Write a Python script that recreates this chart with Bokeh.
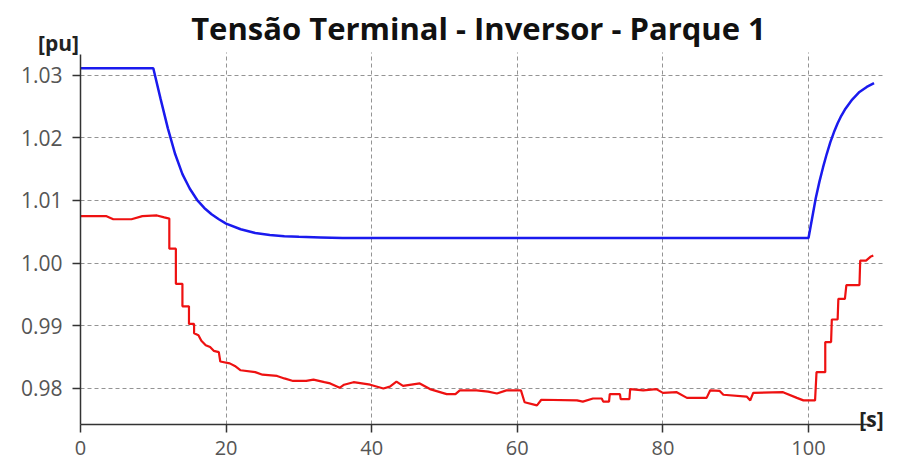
from bokeh.plotting import figure
from bokeh.models import Range1d, FixedTicker, Label, ColumnDataSource, LinearAxis, Grid
from bokeh.embed import file_html
from bokeh.resources import INLINE

# --- data -------------------------------------------------------------
# blue: terminal voltage reference (pu) vs time (s)
blue_t = [0, 10, 11, 12, 13, 14, 15, 16, 17, 18, 19, 20, 22, 24, 26, 28, 30, 33, 36,
          100, 100.5, 101, 101.5, 102, 102.5, 103, 103.5, 104, 104.5, 105, 106, 107, 108, 109]
blue_v = [1.0311, 1.0311, 1.0262, 1.0215, 1.0174, 1.0142, 1.0119, 1.0101, 1.0088, 1.0078,
          1.0070, 1.0063, 1.0054, 1.0048, 1.0045, 1.0043, 1.0042, 1.0041, 1.0040,
          1.0040, 1.0072, 1.0104, 1.0130, 1.0153, 1.0174, 1.0193, 1.0209, 1.0223, 1.0235,
          1.0245, 1.0261, 1.0273, 1.0281, 1.0287]

# red: measured inverter terminal voltage (pu) vs time (s)
red_t = [0, 3.5, 4.5, 7, 8.5, 10.5, 11.5, 12.2,
         12.2, 13.1, 13.1, 14.0, 14.0, 14.9, 14.9, 15.6, 15.6, 16.2, 16.6, 17.2, 17.8, 18.3,
         19.0, 19.2, 20.5, 21.2, 22.0, 24.0, 25, 27.0, 28, 29.2, 31, 32.0, 33.5, 34.3, 35.6,
         36.2, 37.5, 39.8, 41.6, 42.5, 43.4, 44.3, 46.6, 48, 50.3, 51.5, 52.1, 54.4, 56, 57.2,
         58.5, 60.5, 61, 62.7, 63.3, 68.2, 69, 70.4, 71.6, 71.8, 72.6, 72.7, 74.1, 74.2, 75.4,
         75.5, 77.3, 79.1, 80, 81.9, 83.3, 86.0, 86.5, 87.8, 88.3, 91.5, 92.0, 92.4, 96.5,
         98.4, 99.3, 100.9, 101.1, 102.3, 102.3, 103.1, 103.2, 104.0, 104.1, 105.0, 105.2,
         107.0, 107.1, 107.9, 108.5, 108.9]
red_v = [1.0075, 1.0075, 1.0070, 1.0070, 1.0075, 1.0076, 1.0073, 1.0071,
         1.0023, 1.0023, 0.9967, 0.9967, 0.9931, 0.9931, 0.9903, 0.9903, 0.9888, 0.9885,
         0.9876, 0.9869, 0.9866, 0.9860, 0.9858, 0.9843, 0.9840, 0.9836, 0.9829, 0.9826,
         0.9822, 0.9820, 0.9816, 0.9812, 0.9812, 0.9814, 0.9810, 0.9808, 0.9801, 0.9806,
         0.9810, 0.9806, 0.9800, 0.9803, 0.9811, 0.9804, 0.9808, 0.9799, 0.9791, 0.9791,
         0.9797, 0.9797, 0.9795, 0.9792, 0.9797, 0.9797, 0.9778, 0.9773, 0.9782, 0.9781,
         0.9779, 0.9784, 0.9784, 0.9779, 0.9779, 0.9791, 0.9791, 0.9783, 0.9783, 0.9799,
         0.9797, 0.9799, 0.9793, 0.9794, 0.9785, 0.9785, 0.9797, 0.9796, 0.9790, 0.9787,
         0.9781, 0.9793, 0.9794, 0.9785, 0.9781, 0.9781, 0.9826, 0.9826, 0.9874, 0.9874,
         0.9910, 0.9910, 0.9943, 0.9943, 0.9965, 0.9965, 1.0004, 1.0004, 1.0010, 1.0012]

x_ticks = [0, 20, 40, 60, 80, 100]
y_ticks = [0.98, 0.99, 1.00, 1.01, 1.02, 1.03]
y_tick_labels = {0.98: "0.98", 0.99: "0.99", 1.00: "1.00", 1.01: "1.01", 1.02: "1.02", 1.03: "1.03"}

TITLE = "Tensão Terminal - Inversor - Parque 1"
X_UNIT = "[s]"
Y_UNIT = "[pu]"

# --- geometry -------------------------------------------------------------
W, H = 899, 461
# plotting box (pixels) and the data limits it shows
PX_L, PX_R, PX_T, PX_B = 80, 883, 52, 424
X0, X1 = 0, 110.3
Y0, Y1 = 0.97425, 1.0336

sx = (X1 - X0) / (PX_R - PX_L)
sy = (Y1 - Y0) / (PX_B - PX_T)

def dx(px):
    return X0 + (px - PX_L) * sx

def dy(py):
    return Y1 - (py - PX_T) * sy

# the frame covers the whole canvas so that titles and units can sit
# anywhere; the axes are pinned to the corner of the plotting box
p = figure(width=W, height=H, output_backend="svg", toolbar_location=None,
           x_range=Range1d(dx(0), dx(W)), y_range=Range1d(dy(H), dy(0)),
           x_axis_location=None, y_axis_location=None,
           min_border=0)
p.outline_line_color = None
p.background_fill_color = "white"
p.border_fill_color = "white"
p.grid.visible = False

xaxis = LinearAxis(fixed_location=Y0, bounds=(X0, X1 - 1.8), ticker=FixedTicker(ticks=x_ticks))
yaxis = LinearAxis(fixed_location=X0, bounds=(Y0, Y1 - 0.0003), ticker=FixedTicker(ticks=y_ticks),
                   major_label_overrides=y_tick_labels)
for ax in (xaxis, yaxis):
    ax.axis_line_color = "#333333"
    ax.axis_line_width = 1.5
    ax.major_tick_line_color = "#333333"
    ax.major_tick_line_width = 1.5
    ax.major_tick_out = 8
    ax.major_tick_in = 0
    ax.minor_tick_out = 0
    ax.minor_tick_in = 0
    ax.major_label_text_font = "Open Sans"
    ax.major_label_text_color = "#555555"
xaxis.major_label_text_font_size = "20px"
yaxis.major_label_text_font_size = "21px"
xaxis.major_label_standoff = 8
yaxis.major_label_standoff = 10
p.add_layout(xaxis, "below")
p.add_layout(yaxis, "left")

xgrid = Grid(dimension=0, ticker=FixedTicker(ticks=x_ticks[1:]), cross_bounds=(Y0, Y1))
ygrid = Grid(dimension=1, ticker=FixedTicker(ticks=y_ticks), cross_bounds=(X0, X1))
for g in (xgrid, ygrid):
    g.grid_line_color = "#949494"
    g.grid_line_dash = "4 3"
    g.grid_line_width = 1
    p.add_layout(g)

src_b = ColumnDataSource(dict(t=blue_t, v=blue_v))
src_r = ColumnDataSource(dict(t=red_t, v=red_v))
p.line("t", "v", source=src_r, line_color="#ee1111", line_width=2.2)
p.line("t", "v", source=src_b, line_color="#1a1aee", line_width=2.5)

p.add_layout(Label(x=dx(478), y=dy(27), text=TITLE, text_align="center",
                   text_baseline="alphabetic", text_font="Open Sans",
                   text_font_style="bold", text_font_size="31px", text_color="#111111"))
p.add_layout(Label(x=dx(58), y=dy(42), text=Y_UNIT, text_align="center",
                   text_baseline="alphabetic", text_font="Open Sans",
                   text_font_style="bold", text_font_size="21px", text_color="#222222"))
p.add_layout(Label(x=dx(871), y=dy(418), text=X_UNIT, text_align="center",
                   text_baseline="alphabetic", text_font="Open Sans",
                   text_font_style="bold", text_font_size="21px", text_color="#222222"))

open("out.html", "w").write(file_html(p, INLINE))
